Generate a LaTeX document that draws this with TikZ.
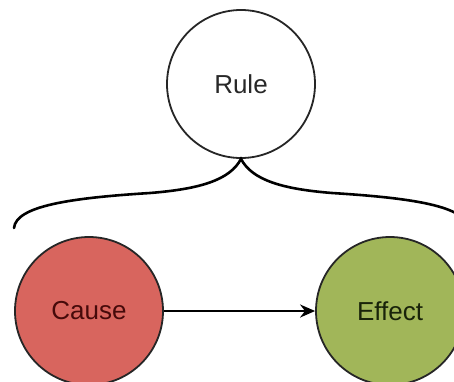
\documentclass[tikz,border=0pt]{standalone}
\usepackage{fontspec}
\setmainfont{Liberation Sans}
\usetikzlibrary{arrows.meta}
\definecolor{causefill}{RGB}{216,101,94}
\definecolor{effectfill}{RGB}{161,182,89}
\definecolor{causetext}{RGB}{70,10,10}
\definecolor{effecttext}{RGB}{25,35,10}
\definecolor{ruletext}{RGB}{40,40,40}
\tikzset{
  bubble/.style={circle, draw=black!85, line width=1.8pt, minimum size=148pt, inner sep=0pt, font=\fontsize{26}{30}\selectfont},
  link/.style={line width=2.2pt, -{Stealth[length=15pt,width=13pt]}},
  brace/.style={line width=2.6pt, line cap=round}
}
\begin{document}
\begin{tikzpicture}[x=1pt,y=-1pt]
\clip (0,0) rectangle (454,381);
\fill[white] (0,0) rectangle (454,381);
\node[bubble, fill=white, text=ruletext] (rule) at (241,84) {Rule};
\node[bubble, fill=causefill, text=causetext] (cause) at (89,311) {Cause};
\node[bubble, fill=effectfill, text=effecttext] (effect) at (390,311) {Effect};
\draw[link] (cause) -- (effect);
\coordinate (tip) at (rule.south);
\coordinate (bl) at (14,228);
\coordinate (br) at (468,228);
\draw[brace] (bl) .. controls (16,206) and (70,198) .. (150,193)
  .. controls (200,189) and (230,180) .. (tip)
  .. controls (252,180) and (282,189) .. (332,193)
  .. controls (412,198) and (466,206) .. (br);
\end{tikzpicture}
\end{document}
